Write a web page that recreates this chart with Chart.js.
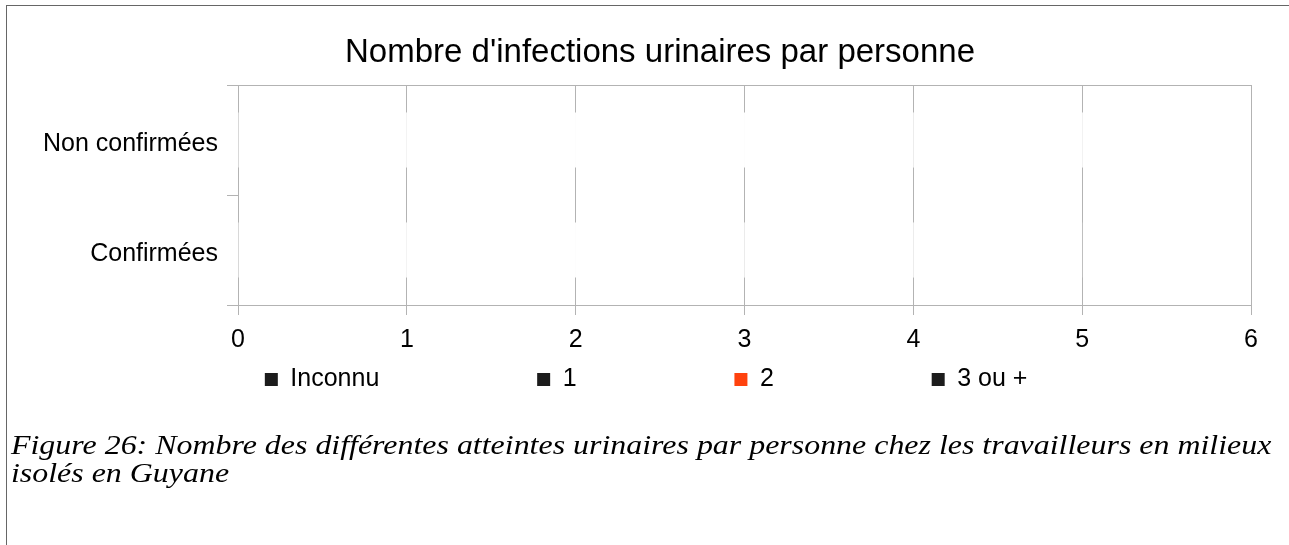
<!DOCTYPE html>
<html>
<head>
<meta charset="utf-8">
<script src="https://cdn.jsdelivr.net/npm/chart.js@4/dist/chart.umd.min.js"></script>
<style>
  html, body { margin: 0; padding: 0; background: #fff; }
  #wrap { position: relative; width: 1289px; height: 545px; overflow: hidden; }
  #wrap canvas { position: absolute; left: 0; top: 0; }
  #frame {
    position: absolute; left: 6px; top: 5px; right: -2px; bottom: -2px;
    border-left: 1px solid #666; border-top: 1px solid #666;
    pointer-events: none;
  }
  #caption {
    position: absolute; left: 11px; top: 431px; white-space: nowrap;
    font-family: "Liberation Serif", "Times New Roman", serif;
    font-style: italic; font-size: 28px; line-height: 28px; color: #000;
    transform: scaleX(1.14); transform-origin: 0 0;
  }
</style>
</head>
<body>
<div id="wrap">
  <canvas id="myChart" width="1289" height="545"></canvas>
  <div id="frame"></div>
  <div id="caption">Figure 26: Nombre des différentes atteintes urinaires par personne chez les travailleurs en milieux<br>isolés en Guyane</div>
</div>
<script>
const categories = ["Non confirmées", "Confirmées"];
const seriesNames = ["Inconnu", "1", "2", "3 ou +"];
const inconnu = [1, 1];
const un = [3, 2];
const deux = [1, 1];
const troisOuPlus = [1, 1];
const xTicks = [0, 1, 2, 3, 4, 5, 6];
const legendColors = ["#1c1c1c", "#1c1c1c", "#ff420e", "#1c1c1c"];

const barFill = "rgba(255, 255, 255, 0.97)";
const gridColor = "#b3b3b3";
const font = "'Liberation Sans', Arial, sans-serif";

// top and right edges of the plot area, and room for the long y labels
const plotFrame = {
  id: "plotFrame",
  afterLayout(chart) {
    chart.scales.y.left = 0;
  },
  afterDatasetsDraw(chart) {
    const { ctx, chartArea: a } = chart;
    ctx.save();
    ctx.strokeStyle = gridColor;
    ctx.lineWidth = 1;
    ctx.beginPath();
    ctx.moveTo(a.left, a.top + 0.5);
    ctx.lineTo(a.right + 0.5, a.top + 0.5);
    ctx.lineTo(a.right + 0.5, a.bottom);
    ctx.stroke();
    ctx.restore();
  },
};

const ctx = document.getElementById("myChart").getContext("2d");
const myChart = new Chart(ctx, {
  type: "bar",
  data: {
    labels: categories,
    datasets: [inconnu, un, deux, troisOuPlus].map((values, i) => ({
      label: seriesNames[i],
      data: values,
      backgroundColor: barFill,
      borderWidth: 0,
      barPercentage: 0.5,
      categoryPercentage: 1,
    })),
  },
  options: {
    indexAxis: "y",
    responsive: false,
    animation: false,
    layout: { padding: { left: 69, right: 38, top: 0, bottom: 143 } },
    scales: {
      x: {
        stacked: true,
        min: 0,
        max: 6,
        afterBuildTicks: (scale) => {
          scale.ticks = xTicks.map((v) => ({ value: v }));
        },
        afterFit: (scale) => {
          scale.height = 50;
        },
        grid: { color: gridColor, tickLength: 10, tickColor: gridColor },
        border: { color: gridColor },
        ticks: { color: "#000", padding: 10, font: { family: font, size: 25 } },
      },
      y: {
        stacked: true,
        afterFit: (scale) => {
          scale.width = 169;
        },
        grid: {
          offset: true,
          drawOnChartArea: false,
          tickLength: 11,
          color: gridColor,
        },
        border: { color: gridColor },
        ticks: {
          color: "#000",
          padding: 9,
          labelOffset: 4,
          font: { family: font, size: 25 },
        },
      },
    },
    plugins: {
      title: {
        display: true,
        text: "Nombre d'infections urinaires par personne",
        color: "#000",
        font: { family: font, size: 33, weight: "normal" },
        padding: { top: 33, bottom: 12.4 },
      },
      legend: {
        position: "bottom",
        labels: {
          color: "#000",
          font: { family: font, size: 25 },
          boxWidth: 13,
          boxHeight: 13,
          padding: 12,
          generateLabels: (chart) => {
            const items = Chart.defaults.plugins.legend.labels.generateLabels(chart);
            return items.map((item, i) => {
              item.fillStyle = legendColors[i];
              item.strokeStyle = legendColors[i];
              item.lineWidth = 0;
              // LibreOffice spreads the entries in wide columns
              item.text = item.text + " ".repeat(i < 3 ? 21 : 4);
              return item;
            });
          },
        },
      },
      tooltip: { enabled: false },
    },
  },
  plugins: [plotFrame],
});
</script>
</body>
</html>
